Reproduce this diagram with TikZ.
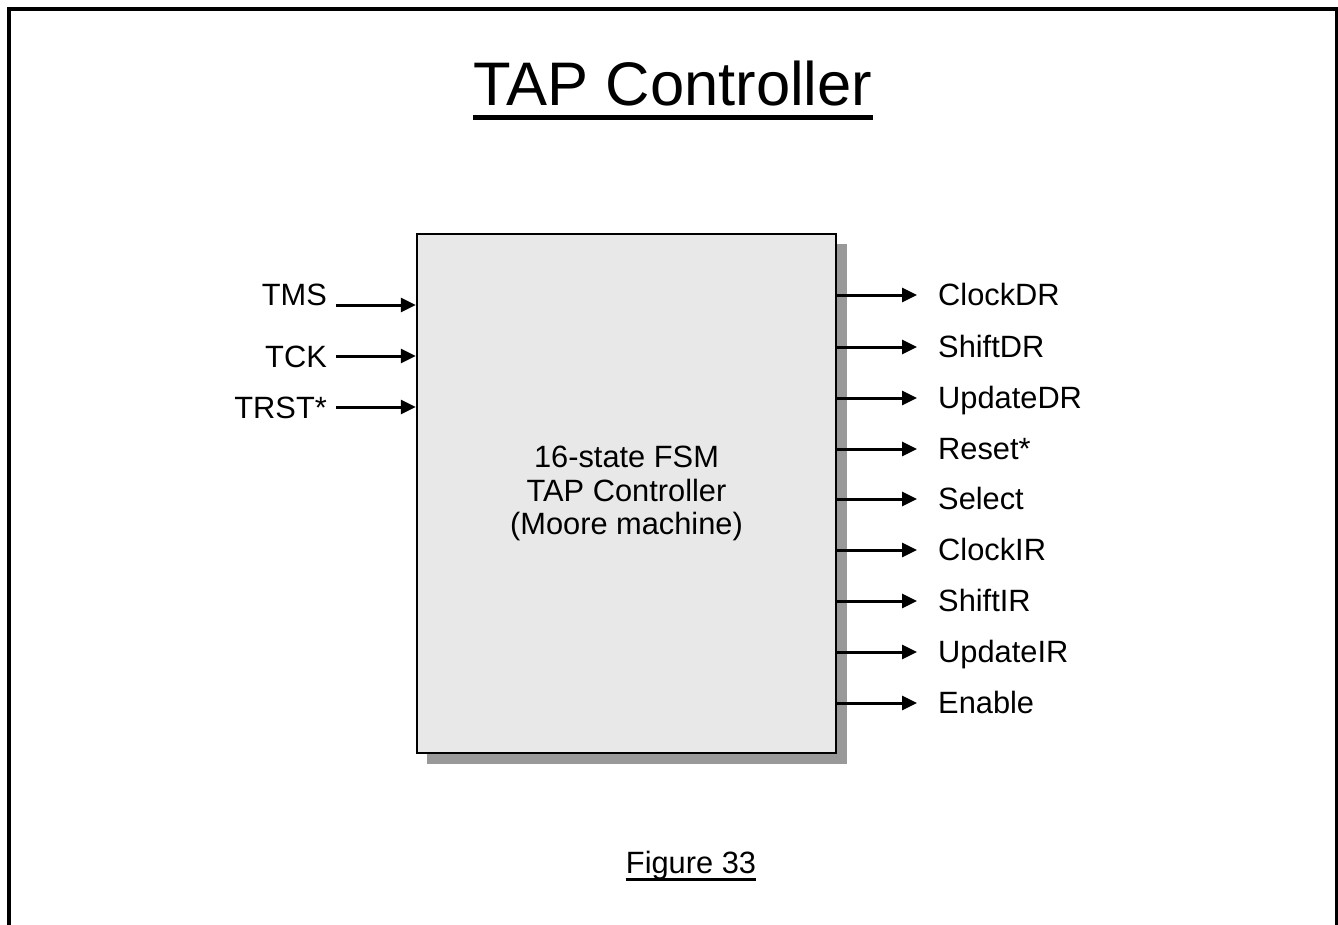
\documentclass[tikz,border=0pt]{standalone}
\usepackage{fontspec}
\setmainfont{Liberation Sans}
\usetikzlibrary{arrows.meta}
\definecolor{boxfill}{HTML}{E8E8E8}
\definecolor{shadowc}{HTML}{999999}
\tikzset{
  sig/.style={line width=3pt, -{Triangle[length=15pt,width=14pt]}},
  lbl/.style={inner sep=0pt, font=\fontsize{30.8}{33}\selectfont},
  fsmbox/.style={draw, line width=2.5pt, fill=boxfill, minimum width=419pt, minimum height=519pt, inner sep=0pt, align=center, font=\fontsize{30.8}{33.5}\selectfont},
}
\begin{document}
\begin{tikzpicture}[x=1pt,y=-1pt]
\useasboundingbox (0,0) rectangle (1338,924);
\fill[white] (0,0) rectangle (1338,924);
% outer frame
\draw[line width=3.5pt] (9,9) rectangle (1336.5,940);
% title
\node[inner sep=0pt, anchor=base, font=\fontsize{61.5}{66}\selectfont] (title) at (673,105) {TAP Controller};
\draw[line width=5pt] ([yshift=-12pt]title.base west) -- ([yshift=-12pt]title.base east);
% shadow and box
\fill[shadowc] (427,244) rectangle (847,764);
\node[fsmbox] (fsm) at (626.5,493.5) {16-state FSM\\TAP Controller\\(Moore machine)};
% inputs
\node[lbl, anchor=base east] (tms) at (327,305) {TMS};
\node[lbl, anchor=base east] (tck) at (327,367) {TCK};
\node[lbl, anchor=base east] (trst) at (327,418) {TRST*};
\coordinate (i1) at (336,305);
\coordinate (i2) at (336,356);
\coordinate (i3) at (336,407);
\draw[sig] (i1) -- (i1 -| fsm.west);
\draw[sig] (i2) -- (i2 -| fsm.west);
\draw[sig] (i3) -- (i3 -| fsm.west);
% outputs
\foreach \n/\y/\t in {1/295/ClockDR, 2/347/ShiftDR, 3/398/UpdateDR, 4/449/Reset*, 5/499/Select, 6/550/ClockIR, 7/601/ShiftIR, 8/652/UpdateIR, 9/703/Enable}{
  \coordinate (o\n) at (917,\y);
  \node[lbl, anchor=base west] (out\n) at (938,\y+10.5) {\t};
  \draw[sig] (o\n -| fsm.east) -- (o\n);
}
% figure label
\node[inner sep=0pt, anchor=base, font=\fontsize{30.8}{33}\selectfont] (fig) at (691,873) {Figure 33};
\draw[line width=3pt] ([yshift=-6pt]fig.base west) -- ([yshift=-6pt]fig.base east);
\end{tikzpicture}
\end{document}
